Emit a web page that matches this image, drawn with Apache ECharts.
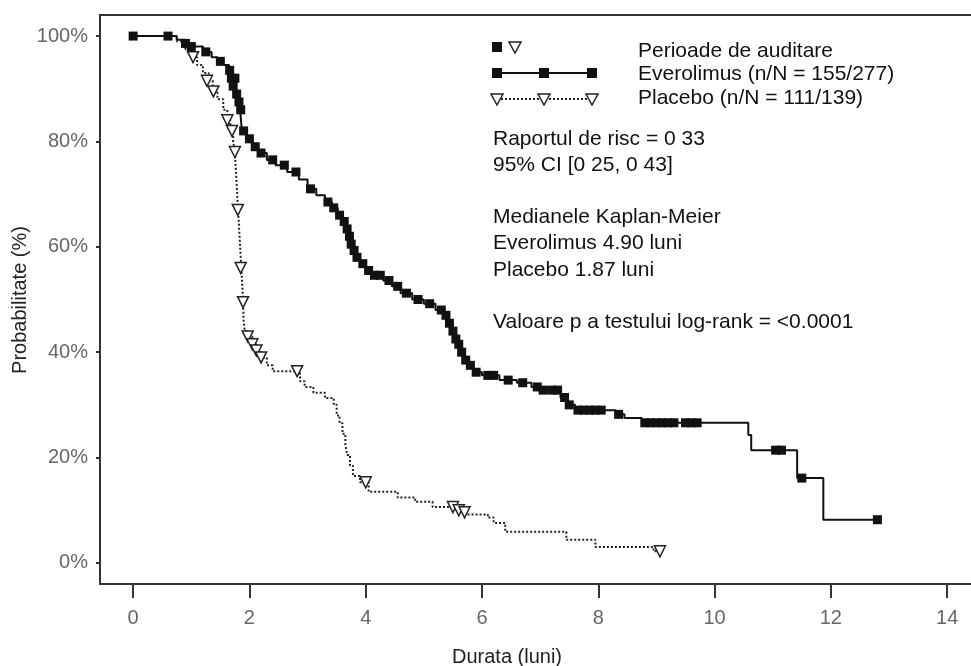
<!DOCTYPE html>
<html>
<head>
<meta charset="utf-8">
<title>Kaplan-Meier</title>
<script src="https://cdn.jsdelivr.net/npm/echarts@6.0.0/dist/echarts.min.js"></script>
<style>
  html, body { margin: 0; padding: 0; background: #fff; }
  #chart { width: 971px; height: 666px; }
</style>
</head>
<body>
<div id="chart"></div>
<script>
// KM steps (luni, %)
const evTime = [0, 0.75, 0.9, 1.05, 1.2, 1.35, 1.45, 1.55, 1.65, 1.7, 1.73, 1.76, 1.8, 1.84, 1.87, 1.95, 2.05, 2.15, 2.3, 2.45, 2.65, 2.85, 3.0, 3.15, 3.3, 3.42, 3.52, 3.6, 3.66, 3.7, 3.73, 3.76, 3.82, 3.9, 4.0, 4.1, 4.3, 4.45, 4.6, 4.8, 5.0, 5.2, 5.35, 5.42, 5.47, 5.52, 5.57, 5.62, 5.68, 5.75, 5.85, 6.0, 6.3, 6.6, 6.85, 7.1, 7.35, 7.45, 7.6, 8.3, 8.45, 8.75, 10.58, 10.63, 11.42, 11.87, 12.8];
const evSurv = [100, 99.3, 98.6, 98, 97, 96, 95.2, 94.5, 93.5, 92, 90.5, 89, 87.5, 86, 82, 80.5, 79, 77.8, 76.5, 75.5, 74.2, 72.8, 71, 69.8, 68.5, 67.4, 66, 64.8, 63.4, 62, 60.5, 59.3, 58, 56.8, 55.5, 54.6, 53.6, 52.5, 51.2, 50, 49.2, 48, 47, 45.5, 44, 42.5, 41.5, 40, 38.5, 37.5, 36.2, 35.6, 34.7, 34.2, 33.4, 32.8, 31.4, 30, 29, 28.2, 27.5, 26.6, 24.3, 21.4, 16.1, 8.2, 8.2];

const plTime = [0, 0.75, 0.9, 1.0, 1.1, 1.2, 1.3, 1.37, 1.45, 1.55, 1.62, 1.67, 1.72, 1.75, 1.77, 1.79, 1.81, 1.83, 1.85, 1.87, 1.89, 1.9, 1.92, 1.97, 2.05, 2.12, 2.2, 2.3, 2.4, 2.87, 2.95, 3.1, 3.3, 3.45, 3.5, 3.55, 3.6, 3.65, 3.68, 3.73, 3.78, 3.9, 4.05, 4.55, 4.85, 5.15, 5.5, 5.7, 6.1, 6.2, 6.4, 7.45, 7.95, 8.95, 9.06];
const plSurv = [100, 99, 97.5, 96, 94.5, 93, 91.5, 89.5, 88, 86, 84, 82, 80, 78, 74, 70, 66, 62, 58, 54, 50, 46, 44, 43, 41.5, 40.3, 39, 37.5, 36.4, 34.5, 33.4, 32.3, 31.3, 30, 28, 26.5, 24.5, 22.5, 20.5, 18.5, 16.5, 15.3, 13.5, 12.4, 11.6, 10.6, 10.0, 9.2, 8.6, 7.6, 5.9, 4.4, 3.0, 2.2, 2.2];

// censored (perioade de auditare)
const evCensT = [0, 0.6, 0.9, 1.0, 1.25, 1.5, 1.66, 1.69, 1.72, 1.75, 1.78, 1.82, 1.85, 1.9, 2.0, 2.1, 2.2, 2.4, 2.6, 2.8, 3.05, 3.35, 3.45, 3.55, 3.63, 3.68, 3.72, 3.75, 3.8, 3.85, 3.95, 4.05, 4.15, 4.25, 4.4, 4.55, 4.7, 4.9, 5.1, 5.3, 5.38, 5.44, 5.5, 5.55, 5.6, 5.65, 5.72, 5.8, 5.9, 6.1, 6.2, 6.45, 6.7, 6.95, 7.05, 7.2, 7.3, 7.42, 7.5, 7.65, 7.75, 7.85, 7.95, 8.05, 8.35, 8.8, 8.9, 9.0, 9.1, 9.2, 9.3, 9.5, 9.6, 9.7, 11.05, 11.15, 11.5, 12.8];
const evCensS = [100, 100, 98.6, 98, 97, 95.2, 93.5, 92, 90.5, 92, 89, 87.5, 86, 82, 80.5, 79, 77.8, 76.5, 75.5, 74.2, 71, 68.5, 67.4, 66, 64.8, 63.4, 62, 60.5, 59.3, 58, 56.8, 55.5, 54.6, 54.6, 53.6, 52.5, 51.2, 50, 49.2, 48, 47, 45.5, 44, 42.5, 41.5, 40, 38.5, 37.5, 36.2, 35.6, 35.6, 34.7, 34.2, 33.4, 32.8, 32.8, 32.8, 31.4, 30, 29, 29, 29, 29, 29, 28.2, 26.6, 26.6, 26.6, 26.6, 26.6, 26.6, 26.6, 26.6, 26.6, 21.4, 21.4, 16.1, 8.2];
const plCensT = [1.03, 1.27, 1.38, 1.62, 1.7, 1.75, 1.8, 1.85, 1.89, 1.97, 2.05, 2.12, 2.2, 2.82, 4.0, 5.5, 5.6, 5.7, 9.06];
const plCensS = [96, 91.5, 89.5, 84, 82, 78, 67, 56, 49.5, 43, 41.5, 40.3, 39, 36.4, 15.3, 10.6, 10.0, 9.6, 2.2];

const xTicks = [0, 2, 4, 6, 8, 10, 12, 14];
const yTicks = [0, 20, 40, 60, 80, 100];

const legendTexts = ['Perioade de auditare', 'Everolimus (n/N = 155/277)', 'Placebo (n/N = 111/139)'];
const noteTexts = [
  ['Raportul de risc = 0 33', 141],
  ['95% CI [0 25, 0 43]', 167],
  ['Medianele Kaplan-Meier', 219],
  ['Everolimus 4.90 luni', 245],
  ['Placebo 1.87 luni', 272],
  ['Valoare p a testului log-rank = <0.0001', 324]
];

const zip = (a, b) => a.map((v, i) => [v, b[i]]);
const FONT = '"Liberation Sans", Arial, sans-serif';
const txtStyle = { fontFamily: FONT, fontSize: 21, fill: '#111', verticalAlign: 'top' };

const tri = (x, y) => ({
  type: 'polygon',
  shape: { points: [[x - 6, y - 5], [x + 6, y - 5], [x, y + 6]] },
  style: { fill: '#fff', stroke: '#222', lineWidth: 1.5 }
});
const sq = (x, y) => ({ type: 'rect', shape: { x: x - 5, y: y - 5, width: 10, height: 10 }, style: { fill: '#111' } });

let graphics = [
  sq(497, 47), tri(515, 47),
  { type: 'line', shape: { x1: 497, y1: 73, x2: 592, y2: 73 }, style: { stroke: '#111', lineWidth: 2 } },
  sq(497, 73), sq(544, 73), sq(592, 73),
  { type: 'line', shape: { x1: 497, y1: 99, x2: 592, y2: 99 }, style: { stroke: '#222', lineWidth: 2, lineDash: [2, 2] } },
  tri(497, 99), tri(544, 99), tri(592, 99),
  // axis titles, placed as in the source figure
  { type: 'text', x: 507, y: 657, style: { text: 'Durata (luni)', fontFamily: FONT, fontSize: 20, fill: '#222', align: 'center', verticalAlign: 'middle' } },
  { type: 'text', x: 20, y: 300, rotation: Math.PI / 2, style: { text: 'Probabilitate (%)', fontFamily: FONT, fontSize: 20, fill: '#222', align: 'center', verticalAlign: 'middle' } }
];
legendTexts.forEach((t, i) => {
  graphics.push({ type: 'text', x: 638, y: [53, 76, 100][i] - 12, style: Object.assign({ text: t }, txtStyle) });
});
noteTexts.forEach(([t, y]) => {
  graphics.push({ type: 'text', x: 493, y: y - 12, style: Object.assign({ text: t }, txtStyle) });
});

const chart = echarts.init(document.getElementById('chart'));
chart.setOption({
  animation: false,
  backgroundColor: '#fff',
  grid: { left: 100, top: 15, right: 0, bottom: 82, outerBoundsMode: 'none', containLabel: false },
  xAxis: [
    {
      type: 'value', min: -0.57, max: 14.41, position: 'bottom',
      axisLine: { show: true, onZero: false, lineStyle: { color: '#333', width: 2 } },
      axisTick: { show: true, customValues: xTicks, length: 14, lineStyle: { color: '#333', width: 2 } },
      axisLabel: { customValues: xTicks, margin: 24, fontFamily: FONT, fontSize: 20, color: '#666' },
      splitLine: { show: false }
    },
    {
      // top frame line
      type: 'value', min: -0.57, max: 14.41, position: 'top',
      axisLine: { show: true, onZero: false, lineStyle: { color: '#333', width: 2 } },
      axisTick: { show: false }, axisLabel: { show: false }, splitLine: { show: false }
    }
  ],
  yAxis: {
    type: 'value', min: -4, max: 104,
    axisLine: { show: true, onZero: false, lineStyle: { color: '#333', width: 2 } },
    axisTick: { show: true, customValues: yTicks, length: 4, lineStyle: { color: '#333', width: 2 } },
    axisLabel: { customValues: yTicks, margin: 12, fontFamily: FONT, fontSize: 20, color: '#666', formatter: v => v + '%' },
    splitLine: { show: false }
  },
  series: [
    {
      name: 'Placebo', type: 'line', step: 'end', symbol: 'none',
      lineStyle: { color: '#222', width: 2, type: [2, 2] },
      data: zip(plTime, plSurv), z: 2
    },
    {
      name: 'Everolimus', type: 'line', step: 'end', symbol: 'none',
      lineStyle: { color: '#111', width: 2 },
      data: zip(evTime, evSurv), z: 3
    },
    {
      name: 'Placebo cenzurat', type: 'scatter', symbol: 'triangle', symbolRotate: 180, symbolSize: 11,
      itemStyle: { color: '#fff', borderColor: '#222', borderWidth: 1.5, opacity: 1 },
      data: zip(plCensT, plCensS), z: 4
    },
    {
      name: 'Everolimus cenzurat', type: 'scatter', symbol: 'rect', symbolSize: 9,
      itemStyle: { color: '#111', opacity: 1 },
      data: zip(evCensT, evCensS), z: 5
    }
  ],
  graphic: graphics
});
</script>
</body>
</html>
